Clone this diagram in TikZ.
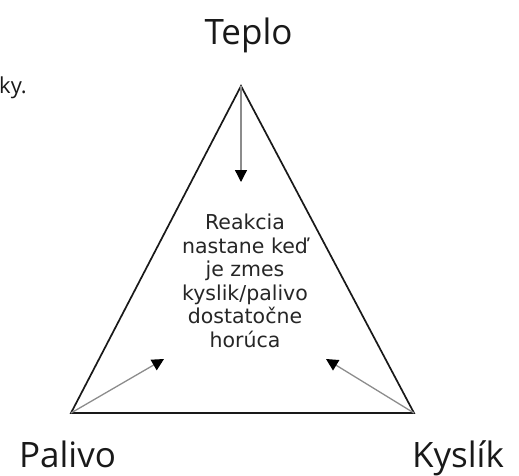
\documentclass[tikz,border=0pt]{standalone}
\usepackage{fontspec}
\setmainfont{Open Sans}
\newfontfamily\boxfont{DejaVu Sans}
\usetikzlibrary{arrows.meta}

\begin{document}
\begin{tikzpicture}[x=1pt,y=-1pt,>={Triangle[length=12pt,width=12pt,color=black]},
  side/.style={line width=1.7pt,black!90},
  feed/.style={->,line width=1.3pt,black!45},
  corner/.style={font=\fontsize{35}{40}\selectfont,text=black!90,anchor=base,inner sep=0pt},
  every node/.style={inner sep=0pt}]
\useasboundingbox (0,0) rectangle (519,475);
% corners of the triangle
\coordinate (top) at (241,86);
\coordinate (left) at (71,413);
\coordinate (right) at (414,413);
\draw[side,line join=miter] (top) -- (left) -- (right) -- cycle;
% where the arrows end
\coordinate (heat) at (241,182);
\coordinate (fuel) at (164,359);
\coordinate (oxy) at (326,359);
\draw[feed] (top) -- (heat);
\draw[feed] (left) -- (fuel);
\draw[feed] (right) -- (oxy);
% labels
\node[corner] (teplo) at (248.5,44) {Teplo};
\node[corner] (palivo) at (67.5,467) {Palivo};
\node[corner] (kyslik) at (458,467) {Kyslík};
\node[anchor=base west,font=\fontsize{22}{26}\selectfont,text=black!90] (ky) at (-1,93) {ky.};
\node[align=center,font=\boxfont\fontsize{20.5}{23.5}\selectfont,text=black!85] (reakcia) at (245,281)
  {Reakcia\\nastane keď\\je zmes\\kyslik/palivo\\dostatočne\\horúca};
\end{tikzpicture}
\end{document}
